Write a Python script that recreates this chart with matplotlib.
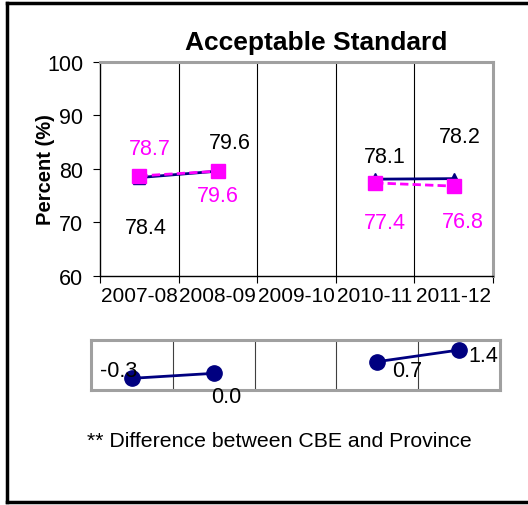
import numpy as np
import matplotlib
matplotlib.use("Agg")
import matplotlib.pyplot as plt
from matplotlib.lines import Line2D

plt.rcParams['font.family'] = ['Liberation Sans', 'DejaVu Sans']

years = ["2007-08", "2008-09", "2009-10", "2010-11", "2011-12"]
cbe = [78.4, 79.6, np.nan, 78.1, 78.2]
province = [78.7, 79.6, np.nan, 77.4, 76.8]
difference = [-0.3, 0.0, np.nan, 0.7, 1.4]

# label offsets in pixels (dx, dy)
cbe_off = [(7, -50), (12, 29), None, (10, 23), (6, 42)]
prov_off = [(11, 27), (0, -24), None, (10, -40), (9, -35)]
diff_off = [(-13, 8), (13, -23), None, (30, -9), (24, -6)]

W, H = 528, 506
fig = plt.figure(figsize=(W / 100, H / 100), dpi=100)

NAVY = '#000080'
MAG = '#FF00FF'
GRAY = '#A0A0A0'
FS = 15

x = np.arange(len(years))

# main axes
ax = fig.add_axes([100 / W, 1 - 277 / H, 393 / W, 214 / H])
ax.set_xlim(-0.5, len(years) - 0.5)
ax.set_ylim(60, 100)
ax.set_yticks([60, 70, 80, 90, 100])
ax.set_xticks(np.arange(-0.5, len(years), 1.0))
ax.set_xticklabels([])
ax.set_xticks(x, minor=True)
ax.set_xticklabels(years, minor=True, fontsize=FS)
ax.tick_params(axis='x', which='minor', length=0, pad=7)
ax.tick_params(axis='x', which='major', length=5, direction='out', color='black')
ax.tick_params(axis='y', length=5, direction='out', labelsize=FS + 0.5, pad=7)
for b in np.arange(0.5, len(years) - 0.5, 1.0):
    ax.axvline(b, color='black', lw=0.8, zorder=1)
ax.spines['left'].set_color('black')
ax.spines['bottom'].set_color('black')
ax.spines['left'].set_linewidth(1.0)
ax.spines['bottom'].set_linewidth(1.0)
for s in ['top', 'right']:
    ax.spines[s].set_color(GRAY)
    ax.spines[s].set_linewidth(2.2)

ax.plot(x, cbe, color=NAVY, lw=2, marker='^', ms=9, zorder=3)
ax.plot(x, province, color=MAG, lw=2, ls='--', dashes=(3, 1.5), marker='s', ms=10, zorder=4)
for i in range(len(years)):
    if cbe_off[i] is not None:
        ax.annotate(f"{cbe[i]:.1f}", (x[i], cbe[i]), xytext=cbe_off[i],
                    textcoords='offset pixels', ha='center', va='center',
                    fontsize=FS + 0.5, color='black')
    if prov_off[i] is not None:
        ax.annotate(f"{province[i]:.1f}", (x[i], province[i]), xytext=prov_off[i],
                    textcoords='offset pixels', ha='center', va='center',
                    fontsize=FS + 0.5, color=MAG)

ax.set_ylabel("Percent (%)", fontsize=14.5, fontweight='bold')
ax.yaxis.set_label_coords((55 - 100) / 393, 0.5)
fig.text(316 / W, 1 - 43 / H, "Acceptable Standard", ha='center', va='center',
         fontsize=19, fontweight='bold')

# difference axes
ax2 = fig.add_axes([91 / W, 1 - 391 / H, 409 / W, 50 / H])
ax2.set_xlim(-0.5, len(years) - 0.5)
ax2.set_ylim(-1, 2)
ax2.set_xticks([])
ax2.set_yticks([])
for b in np.arange(0.5, len(years) - 0.5, 1.0):
    ax2.axvline(b, color='#404040', lw=0.8, zorder=1)
for s in ax2.spines.values():
    s.set_color(GRAY)
    s.set_linewidth(2.2)
ax2.plot(x, difference, color=NAVY, lw=2, marker='o', ms=11, zorder=3, clip_on=False)
for i in range(len(years)):
    if diff_off[i] is not None:
        ax2.annotate(f"{difference[i]:.1f}", (x[i], difference[i]), xytext=diff_off[i],
                     textcoords='offset pixels', ha='center', va='center',
                     fontsize=FS + 0.5, color='black', annotation_clip=False)

fig.text(87 / W, 1 - 442 / H, "** Difference between CBE and Province",
         ha='left', va='center', fontsize=15.3)

# outer frame (left, top, bottom)
fig.add_artist(Line2D([7 / W, 7 / W], [1 - 4 / H, 1 - 503 / H], color='black', lw=2.5,
                      transform=fig.transFigure))
fig.add_artist(Line2D([7 / W, 1.0], [1 - 4 / H, 1 - 4 / H], color='black', lw=2.5,
                      transform=fig.transFigure))
fig.add_artist(Line2D([7 / W, 1.0], [1 - 503 / H, 1 - 503 / H], color='black', lw=2.5,
                      transform=fig.transFigure))

fig.savefig("out.png", dpi=100)
